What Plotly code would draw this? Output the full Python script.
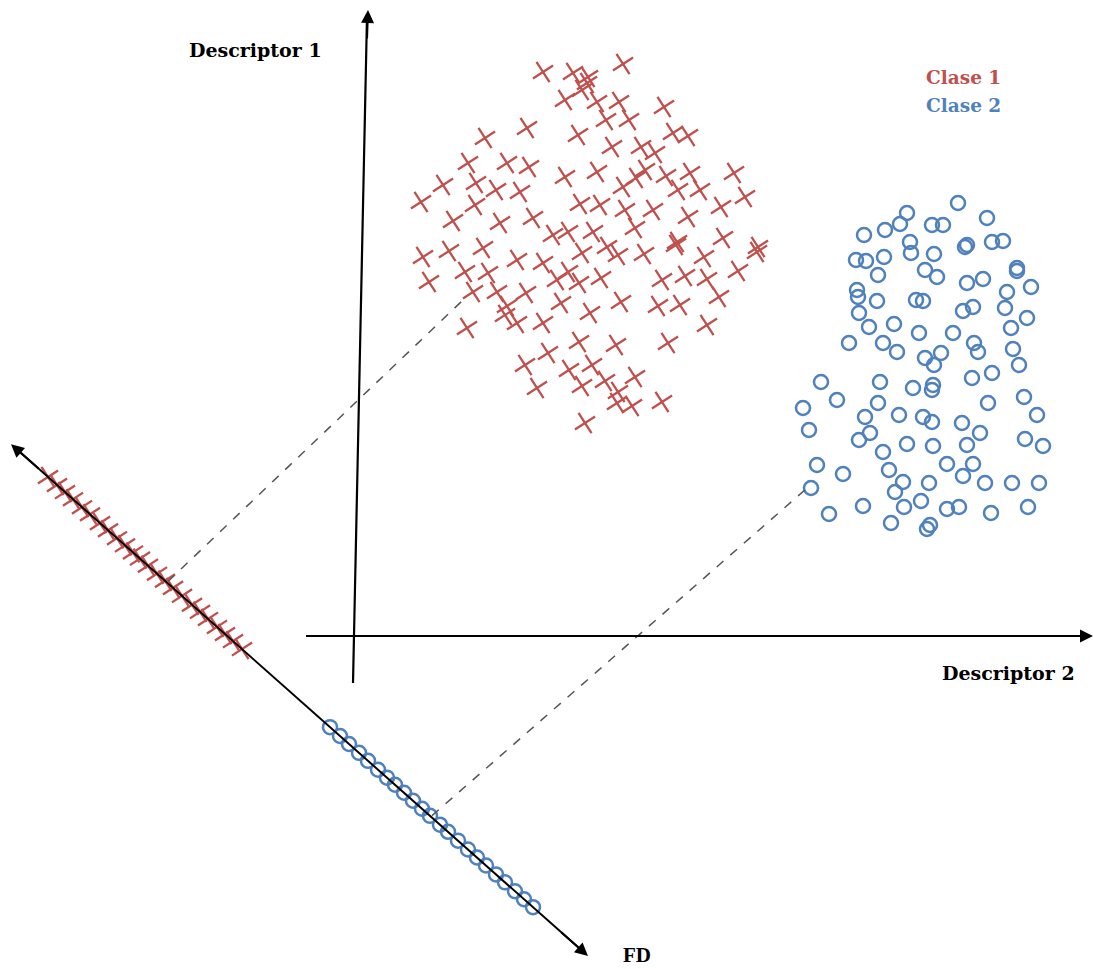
import plotly.graph_objects as go

RED = "#C0504D"
BLUE = "#4F81BD"

# Class 1 (red crosses) in descriptor space (pixel-like coordinates)
c1_x = [543, 573, 588, 623, 587, 582, 565, 597, 619, 664, 606, 629, 527, 485, 578, 673, 688, 612, 641, 655,
        468, 507, 529, 565, 597, 645, 690, 734, 443, 476, 496, 520, 623, 636, 666, 678, 700, 421, 475, 580,
        600, 625, 653, 688, 721, 745, 453, 500, 533, 553, 568, 593, 635, 677, 723, 758, 423, 449, 483, 582,
        607, 618, 644, 676, 704, 757, 429, 465, 488, 517, 543, 557, 568, 579, 601, 662, 685, 707, 738, 473,
        497, 526, 507, 505, 517, 543, 561, 590, 621, 658, 680, 719, 467, 707, 579, 616, 668, 548, 525, 569,
        592, 605, 635, 537, 582, 618, 617, 632, 662, 585]
c1_y = [72, 73, 77, 64, 83, 90, 100, 102, 102, 107, 120, 120, 128, 138, 135, 133, 136, 147, 147, 153,
        163, 163, 167, 177, 172, 170, 173, 173, 185, 183, 190, 192, 187, 178, 176, 190, 190, 202, 205, 204,
        205, 210, 210, 217, 207, 197, 221, 223, 218, 235, 232, 232, 228, 242, 238, 247, 257, 251, 248, 253,
        247, 255, 254, 245, 257, 252, 282, 272, 273, 260, 263, 280, 272, 283, 278, 280, 276, 279, 271, 292,
        292, 293, 306, 315, 323, 323, 303, 313, 302, 306, 305, 297, 328, 325, 342, 345, 343, 353, 365, 370,
        365, 381, 377, 388, 386, 392, 403, 406, 402, 423]

# Class 2 (blue circles)
c2_x = [958, 987, 907, 900, 885, 864, 932, 943, 910, 911, 967, 965, 992, 1003, 856, 866, 884, 934, 925, 937,
        878, 1017, 1017, 967, 983, 1031, 857, 858, 877, 916, 923, 1007, 963, 973, 1005, 859, 1027, 869, 894, 919,
        953, 1011, 849, 883, 897, 925, 941, 974, 978, 1013, 934, 1019, 821, 880, 913, 933, 932, 972, 992, 803,
        837, 878, 865, 899, 923, 932, 962, 988, 1024, 1037, 809, 870, 859, 883, 907, 933, 967, 980, 1025, 1043,
        817, 843, 889, 903, 895, 929, 947, 973, 963, 985, 1012, 1039, 811, 921, 904, 947, 959, 863, 829, 891,
        930, 927, 991, 1028]
c2_y = [203, 218, 213, 224, 230, 235, 225, 225, 242, 253, 245, 247, 242, 241, 260, 261, 257, 254, 270, 277,
        275, 268, 271, 283, 279, 287, 290, 297, 301, 300, 301, 292, 311, 307, 308, 313, 318, 327, 324, 333,
        333, 328, 343, 343, 352, 358, 353, 343, 352, 349, 365, 365, 382, 382, 388, 385, 390, 378, 373, 408,
        400, 403, 417, 415, 417, 422, 423, 403, 397, 415, 430, 433, 440, 452, 444, 446, 445, 433, 439, 446,
        465, 474, 470, 482, 492, 483, 464, 464, 476, 483, 483, 483, 488, 501, 507, 509, 507, 506, 514, 523,
        525, 529, 513, 507]

# Projections onto the discriminant axis (FD): position along the axis (x pixel)
fd_c1 = [48, 57, 65, 73, 82, 90, 100, 108, 117, 125, 133, 140, 148, 157, 165, 173, 182, 192, 200, 208,
         217, 225, 233, 242]
fd_c2 = [330, 340, 349, 359, 368, 378, 387, 395, 404, 413, 422, 430, 440, 448, 458, 468, 477, 486, 496, 505,
         515, 524, 533]

# FD axis geometry (line through the projections)
FD_X0, FD_Y0, FD_SLOPE = 48, 477, 0.887


def fd_y(x):
    return FD_Y0 + FD_SLOPE * (x - FD_X0)


fig = go.Figure()

# dashed projection lines
fig.add_shape(type="line", x0=168, y0=fd_y(168) - 2, x1=462, y1=301,
              line=dict(color="#555555", width=1.5, dash="dash"))
fig.add_shape(type="line", x0=432, y0=fd_y(432) - 2, x1=806, y1=489,
              line=dict(color="#555555", width=1.5, dash="dash"))

# FD axis line
fig.add_shape(type="line", x0=14, y0=fd_y(14), x1=583, y1=fd_y(583),
              line=dict(color="black", width=2))
# Descriptor axes
fig.add_shape(type="line", x0=353, y0=683, x1=367, y1=16, line=dict(color="black", width=2.2))
fig.add_shape(type="line", x0=306, y0=636, x1=1088, y1=636, line=dict(color="black", width=2.2))

xmark = dict(symbol="x-thin-open", size=17, angle=12, line=dict(color=RED, width=2.3), color=RED)
omark = dict(symbol="circle-open", size=14, line=dict(color=BLUE, width=2.5), color=BLUE)

fig.add_trace(go.Scatter(x=c1_x, y=c1_y, mode="markers", marker=xmark,
                         hoverinfo="skip", showlegend=False))
fig.add_trace(go.Scatter(x=c2_x, y=c2_y, mode="markers", marker=omark,
                         hoverinfo="skip", showlegend=False))
fig.add_trace(go.Scatter(x=fd_c1, y=[fd_y(v) for v in fd_c1], mode="markers", marker=xmark,
                         hoverinfo="skip", showlegend=False))
fig.add_trace(go.Scatter(x=fd_c2, y=[fd_y(v) for v in fd_c2], mode="markers", marker=omark,
                         hoverinfo="skip", showlegend=False))

arrow = dict(showarrow=True, arrowhead=2, arrowsize=1.3, arrowwidth=2, arrowcolor="black",
             axref="x", ayref="y", text="")
annotations = [
    dict(x=368, y=10, ax=367, ay=40, **arrow),
    dict(x=1093, y=636, ax=1060, ay=636, **arrow),
    dict(x=11, y=fd_y(11), ax=40, ay=fd_y(40), **arrow),
    dict(x=588, y=fd_y(588), ax=560, ay=fd_y(560), **arrow),
]
font_b = "DejaVu Serif"
texts = [
    ("<b>Descriptor 1</b>", 255, 50, "black", font_b, 19),
    ("<b>Descriptor 2</b>", 1008, 673, "black", font_b, 19),
    ("<b>Clase 1</b>", 963, 77, RED, font_b, 18.5),
    ("<b>Clase 2</b>", 963, 105, BLUE, font_b, 18.5),
    ("<b>FD</b>", 637, 955, "black", "Liberation Serif", 21),
]
for t, x, y, c, f, s in texts:
    annotations.append(dict(x=x, y=y, text=t, showarrow=False, xanchor="center", yanchor="middle",
                            font=dict(color=c, family=f, size=s)))

fig.update_layout(
    width=1093, height=969, margin=dict(l=0, r=0, t=0, b=0),
    paper_bgcolor="white", plot_bgcolor="white",
    xaxis=dict(range=[0, 1093], visible=False, fixedrange=True),
    yaxis=dict(range=[969, 0], visible=False, fixedrange=True),
    annotations=annotations,
)

fig.write_html("out.html", config={"displayModeBar": False},
               post_script="document.body.style.margin='0';")
